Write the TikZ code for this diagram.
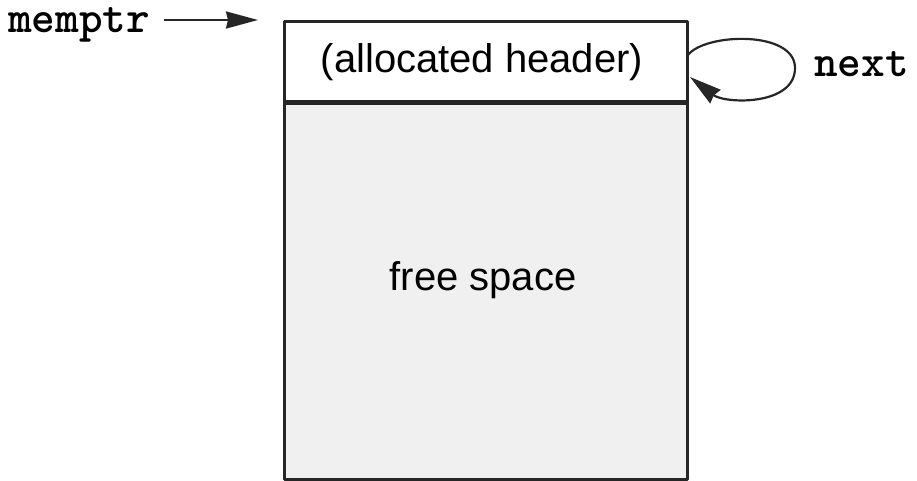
\documentclass[tikz,border=0pt]{standalone}
\usepackage{fontspec}
\setmainfont{Liberation Sans}
\usetikzlibrary{arrows.meta}

\tikzset{
	block/.style={draw=black!85, line width=2.6pt, minimum width=403pt, inner sep=0pt, anchor=north west},
	code/.style={font=\fontsize{45}{50}\selectfont\ttfamily\bfseries, inner sep=0pt},
	ptr/.style={-{Stealth[length=32pt,width=17pt,inset=2pt]}, line width=2.2pt, draw=black!85}
}

\begin{document}
\begin{tikzpicture}[x=1pt, y=-1pt, line join=round, font=\fontsize{40}{46}\selectfont]
	\useasboundingbox (0,0) rectangle (917,480);
	% memory block
	\node[block, fill=black!6, minimum height=378pt] (free) at (283,100) {};
	\node[block, fill=white, minimum height=80pt] (header) at (283,20) {};
	\draw[line width=3.8pt, black!85] (header.south west)--(header.south east);
	\node[inner sep=0pt, anchor=base] (hdrtext) at (482,72) {(allocated header)};
	\node[inner sep=0pt, anchor=base] (freetext) at (483,290) {free space};

	% pointers
	\node[code, anchor=base west] (memptr) at (8,32) {memptr};
	\coordinate (memtip) at (258,20);
	\draw[ptr] ([xshift=14pt]memptr.east |- memtip)--(memtip);
	\node[code, anchor=base west] (next) at (814,76) {next};
	\coordinate (loopstart) at (688,55);
	\coordinate (looptip) at (690,77);
	\draw[ptr] (loopstart)..controls (705,33) and (795,30)..(795,68)
		..controls (795,106) and (725,104)..(looptip);
\end{tikzpicture}
\end{document}
